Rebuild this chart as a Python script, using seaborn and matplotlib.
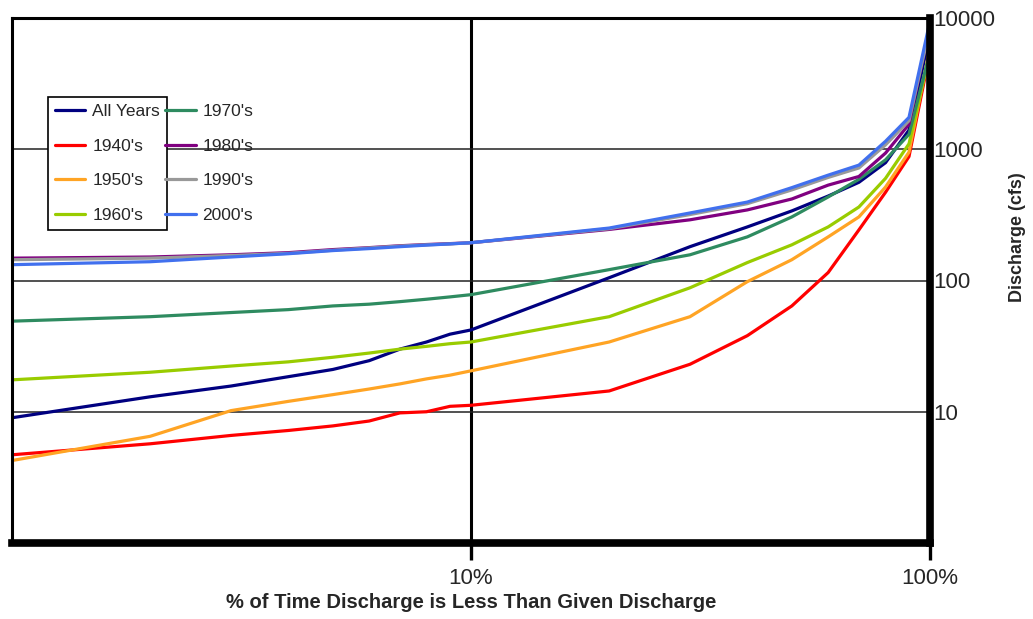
import matplotlib
matplotlib.use("Agg")
import matplotlib.pyplot as plt
import seaborn as sns
import pandas as pd

# percent of time (x)
PCT = [1, 2, 3, 4, 5, 6, 7, 8, 9, 10, 20, 30, 40, 50, 60, 70, 80, 90, 100]

ALL_YEARS = [9, 13, 15.7, 18.5, 21, 24.5, 30, 34, 39, 42, 105, 181, 256, 339, 440, 560, 790, 1400, 7500]
Y1940 = [4.7, 5.7, 6.6, 7.2, 7.8, 8.5, 9.8, 10, 11, 11.2, 14.4, 23, 38, 64, 115, 243, 470, 880, 5500]
Y1950 = [4.25, 6.5, 10.2, 12, 13.5, 14.9, 16.3, 17.8, 19, 20.5, 34, 53, 98, 144, 215, 305, 515, 950, 6000]
Y1960 = [17.5, 20, 22.3, 24, 26, 28, 30, 31.5, 33, 34, 53, 88, 137, 187, 256, 363, 600, 1100, 5500]
Y1970 = [49, 53, 57, 60, 64, 66, 69, 72, 75, 78, 121, 157, 215, 305, 433, 590, 830, 1300, 5500]
Y1980 = [148, 151, 157, 163, 172, 178, 184, 188, 191, 194, 245, 290, 345, 418, 533, 620, 935, 1550, 9000]
Y1990 = [144, 148, 155, 161, 170, 177, 183, 187, 190, 194, 248, 318, 385, 490, 610, 720, 1080, 1650, 8500]
Y2000 = [132, 139, 151, 160, 169, 175, 181, 186, 190, 194, 251, 327, 396, 510, 635, 757, 1150, 1750, 9500]

SERIES = {"All Years": ALL_YEARS, "1940's": Y1940, "1950's": Y1950, "1960's": Y1960,
          "1970's": Y1970, "1980's": Y1980, "1990's": Y1990, "2000's": Y2000}

PALETA = {"All Years": "#000080", "1940's": "#FF0000", "1950's": "#FFA424",
          "1960's": "#99CC00", "1970's": "#2E8B60", "1980's": "#800080",
          "1990's": "#999999", "2000's": "#4170EE"}

ORDER = list(SERIES.keys())

sns.set_theme(style="white")
plt.rcParams["font.family"] = ["Liberation Sans", "DejaVu Sans"]

df = pd.concat([pd.DataFrame({"pct": PCT, "q": v, "period": k}) for k, v in SERIES.items()])

fig = plt.figure(figsize=(10.33, 6.19), dpi=100)
ax = fig.add_axes([12 / 1033, 1 - 543 / 619, 918 / 1033, 525 / 619])

sns.lineplot(data=df, x="pct", y="q", hue="period", hue_order=ORDER,
             palette=PALETA, linewidth=2.3, legend=False, ax=ax)

ax.set_xscale("log")
ax.set_yscale("log")
ax.set_xlim(1, 100)
ax.set_ylim(1, 10000)

# axes: y on the right, thick bottom/right spines
ax.yaxis.tick_right()
ax.set_yticks([10, 100, 1000, 10000])
ax.set_yticklabels(["10", "100", "1000", "10000"], fontsize=16)
ax.set_xticks([10, 100])
ax.set_xticklabels(["10%", "100%"], fontsize=16)
ax.minorticks_off()
ax.tick_params(axis="x", bottom=True, length=12, width=2.4, color="black",
               pad=6, direction="out")
ax.tick_params(axis="y", length=0, pad=2)
for s in ["bottom", "right"]:
    ax.spines[s].set_linewidth(5.5)
for s in ["left", "top"]:
    ax.spines[s].set_linewidth(2.2)
for s in ax.spines.values():
    s.set_color("black")

ax.yaxis.grid(True, color="#222222", linewidth=1.1)
ax.xaxis.grid(True, color="black", linewidth=2.2)
ax.set_axisbelow(True)

ax.set_xlabel("% of Time Discharge is Less Than Given Discharge",
              fontsize=14.5, fontweight="bold", labelpad=3)
ax.set_ylabel("")
fig.text(1017 / 1033, 1 - 237 / 619, "Discharge (cfs)", rotation=90,
         fontsize=13, fontweight="bold", ha="center", va="center")

# legend: first column boxed, second column free-floating
lines = ax.get_lines()[:8]
leg_kw = dict(fontsize=12.5, handlelength=1.75, handletextpad=0.4,
              labelspacing=1.12, borderpad=0.42, borderaxespad=0, loc="upper left")
leg1 = ax.legend(lines[:4], ORDER[:4], bbox_to_anchor=(0.039, 0.85),
                 frameon=True, fancybox=False, framealpha=1, edgecolor="black", **leg_kw)
leg1.get_frame().set_linewidth(1.2)
ax.add_artist(leg1)
ax.legend(lines[4:], ORDER[4:], bbox_to_anchor=(0.159, 0.85), frameon=False, **leg_kw)

plt.savefig("out.png", dpi=100)
plt.close()
